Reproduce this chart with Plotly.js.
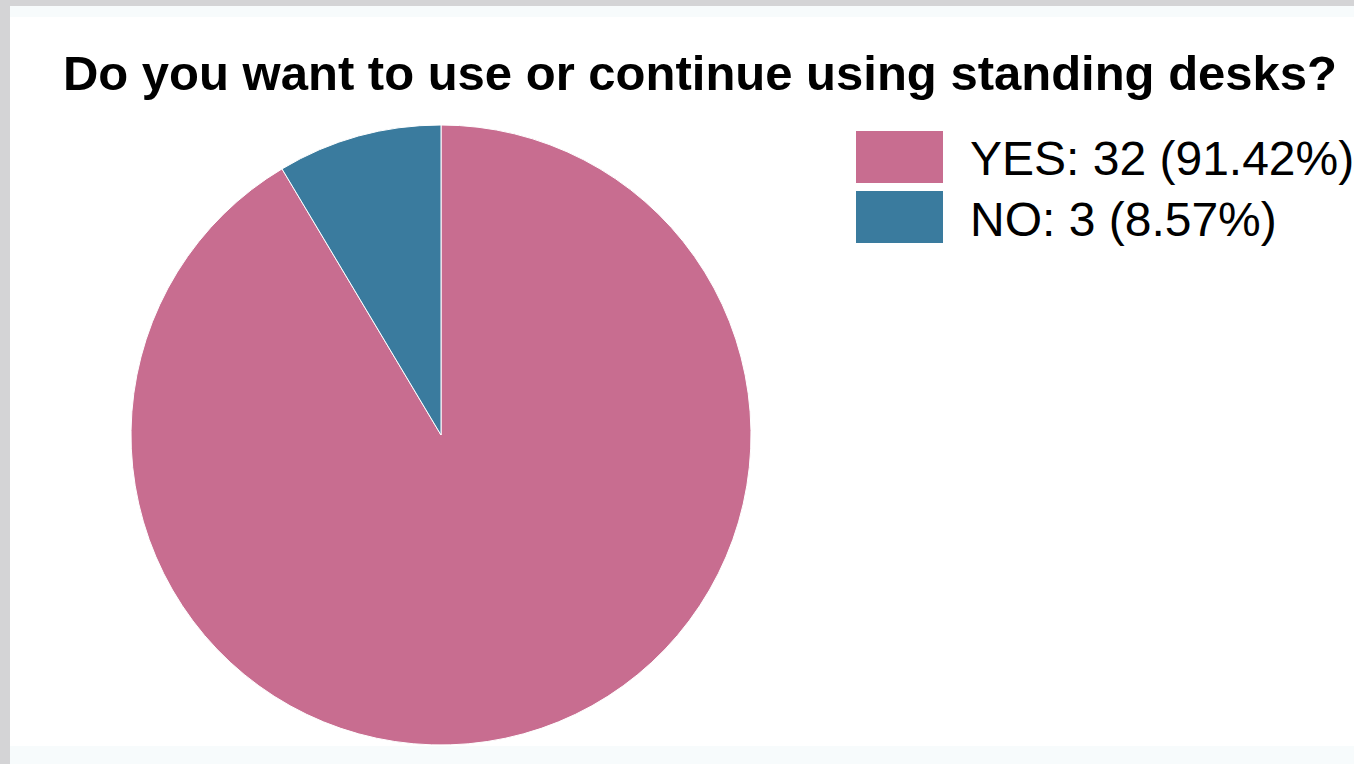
<!DOCTYPE html>
<html>
<head>
<meta charset="utf-8">
<script src="https://cdn.plot.ly/plotly-3.0.1.min.js"></script>
<style>html,body{margin:0;padding:0;background:#fff;}#chart{width:1354px;height:764px;}</style>
</head>
<body>
<div id="chart"></div>
<script>
const chartTitle = "Do you want to use or continue using standing desks?";
const labels = ["YES", "NO"];
const values = [32, 3];
const colors = ["#c86d90", "#3a7b9e"];

const total = values.reduce((a, b) => a + b, 0);
const pctText = values.map(v => (Math.floor(v * 10000 / total) / 100).toFixed(2));
const legendTexts = labels.map((l, i) => `${l}: ${values[i]} (${pctText[i]}%)`);

const W = 1354, H = 764;
const px = x => x / W;
const py = y => 1 - y / H;

const trace = {
  type: "pie",
  labels: labels,
  values: values,
  sort: false,
  direction: "clockwise",
  rotation: 0,
  textinfo: "none",
  hoverinfo: "label+value+percent",
  marker: { colors: colors, line: { color: "#ffffff", width: 1 } },
  domain: { x: [px(131), px(751)], y: [py(745), py(125)] },
  showlegend: false
};

const shapes = [
  { type: "rect", xref: "paper", yref: "paper", x0: 0, x1: px(10), y0: 0, y1: 1, fillcolor: "#d4d4d6", line: { width: 0 }, layer: "below" },
  { type: "rect", xref: "paper", yref: "paper", x0: 0, x1: 1, y0: py(6), y1: 1, fillcolor: "#d4d4d6", line: { width: 0 }, layer: "below" },
  { type: "rect", xref: "paper", yref: "paper", x0: px(10), x1: 1, y0: py(17), y1: py(6), fillcolor: "#f7fbfc", line: { width: 0 }, layer: "below" },
  { type: "rect", xref: "paper", yref: "paper", x0: px(10), x1: 1, y0: 0, y1: py(746), fillcolor: "#f7fbfc", line: { width: 0 }, layer: "below" }
];
const annotations = [];
const rowTop = [131, 191];
labels.forEach((l, i) => {
  shapes.push({ type: "rect", xref: "paper", yref: "paper", x0: px(856), x1: px(943), y0: py(rowTop[i] + 52), y1: py(rowTop[i]), fillcolor: colors[i], line: { width: 0 } });
  annotations.push({ xref: "paper", yref: "paper", x: px(968), y: py(rowTop[i] + 28), xanchor: "left", yanchor: "middle", showarrow: false, text: legendTexts[i], font: { family: "Liberation Sans, Arial, sans-serif", size: 48, color: "#000" } });
});

const layout = {
  width: W, height: H,
  margin: { l: 0, r: 0, t: 0, b: 0 },
  paper_bgcolor: "#ffffff",
  title: { text: "<b>" + chartTitle + "</b>", x: px(700), xanchor: "center", xref: "paper", y: py(73), yanchor: "middle", yref: "paper", font: { family: "Liberation Sans, Arial, sans-serif", size: 49, color: "#000" } },
  shapes: shapes,
  annotations: annotations,
  showlegend: false
};

Plotly.newPlot("chart", [trace], layout, { displayModeBar: false });
</script>
</body>
</html>
